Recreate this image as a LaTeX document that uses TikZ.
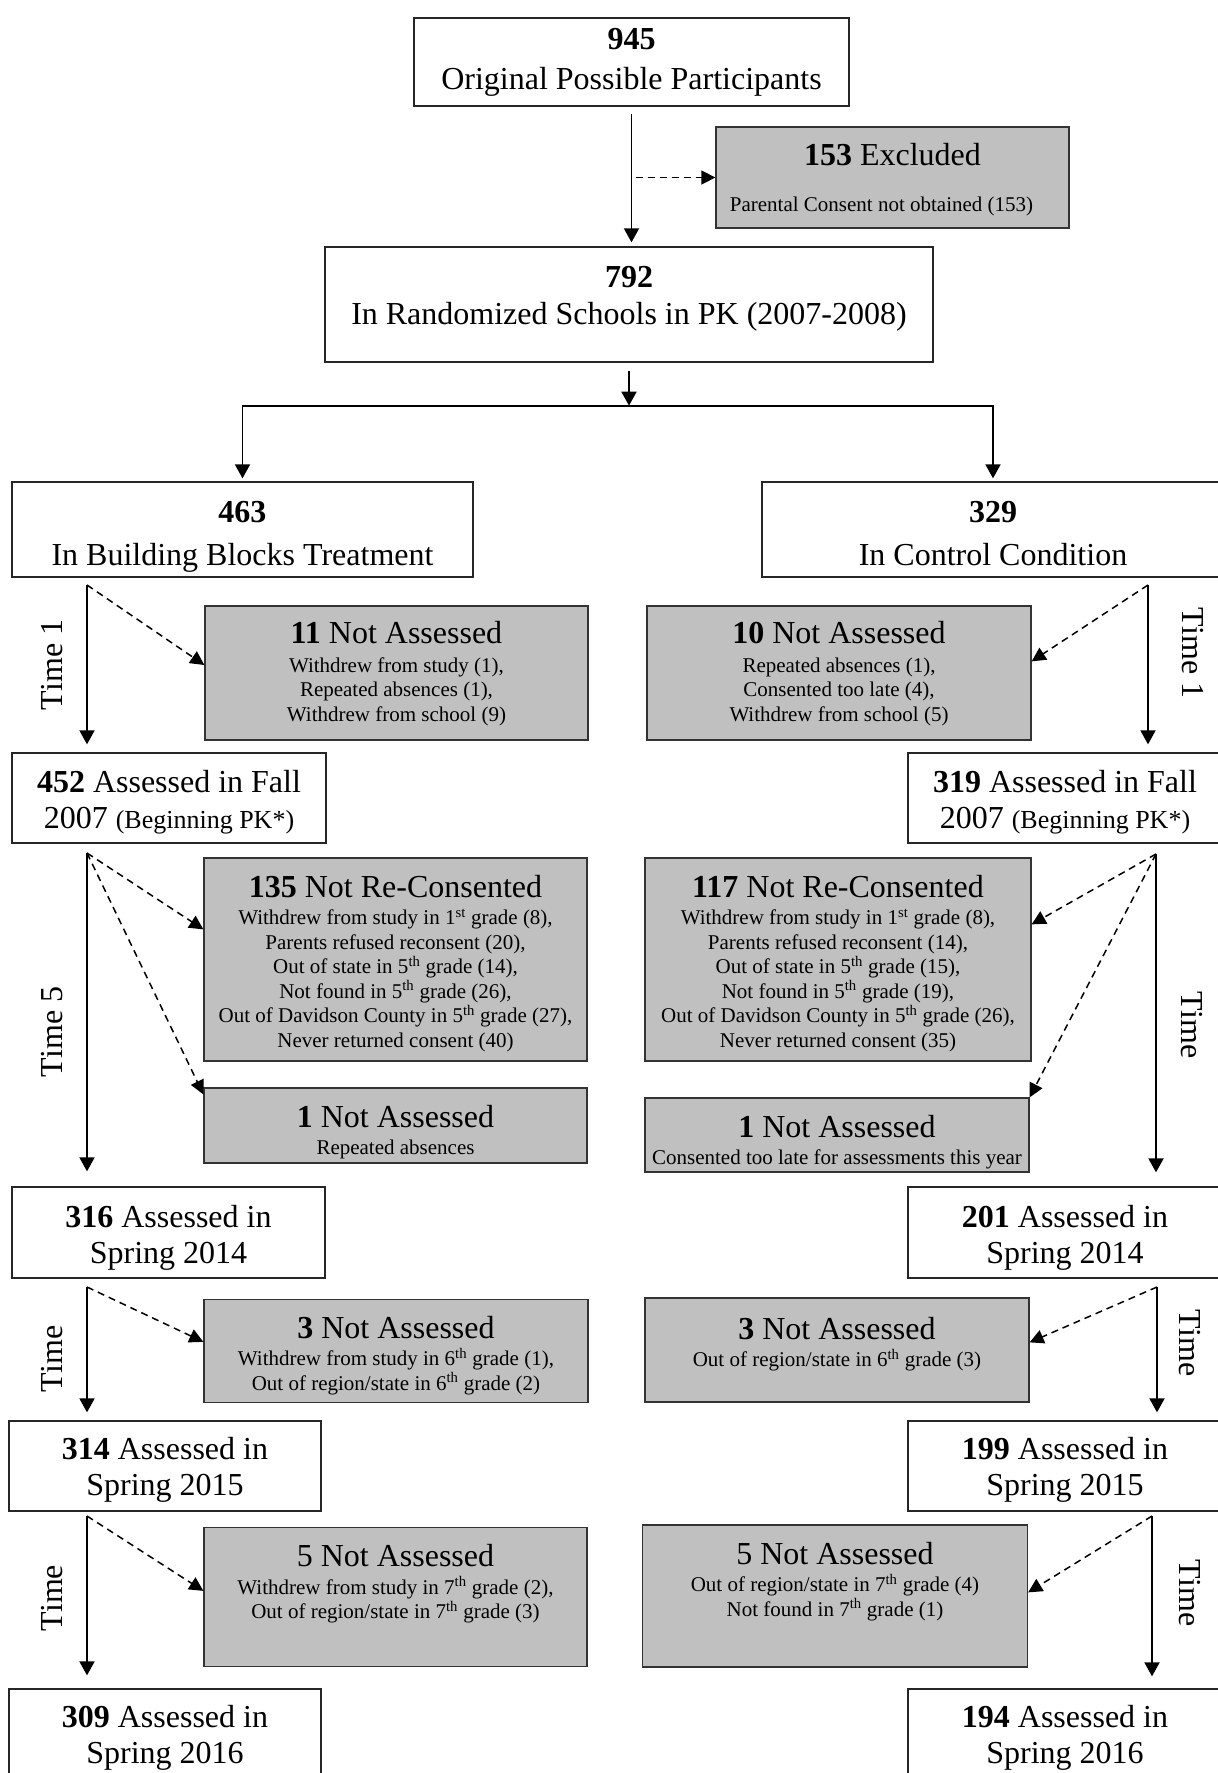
\documentclass[tikz,border=0pt]{standalone}
\usepackage{fontspec}
\setmainfont{Liberation Serif}
\usepackage{xcolor}
\usepackage{tikz}
\usetikzlibrary{arrows.meta,positioning}
\definecolor{boxgrey}{HTML}{C0C0C0}
\newcommand{\headfont}{\fontsize{32}{37}\selectfont}
\newcommand{\notefont}{\fontsize{21}{24.5}\selectfont}
\newcommand{\pkfont}{\fontsize{26}{30}\selectfont}
\newcommand{\padabove}[1]{\rule{0pt}{#1}}
\newcommand{\padbelow}[1]{\rule[-#1]{0pt}{#1}}
\tikzset{
  stage/.style={draw=black!85, line width=1.3pt, fill=white, align=center, inner sep=0pt, font=\headfont},
  dropbox/.style={draw=black!80, line width=1.3pt, fill=boxgrey, inner sep=0pt},
  droptext/.style={align=center, inner sep=0pt, anchor=north, font=\notefont},
  flow/.style={line width=1.8pt, -{Triangle[length=14pt,width=15pt]}},
  lost/.style={line width=1.5pt, dash pattern=on 7pt off 5pt, -{Triangle[length=14pt,width=14pt]}},
  timelabel/.style={inner sep=0pt, font=\headfont}
}

\begin{document}
\begin{tikzpicture}[x=1pt,y=-1pt]
\useasboundingbox (0,0) rectangle (1218,1773);
\clip (0,0) rectangle (1218,1773);

% enrolment
\node[stage, minimum width=435, minimum height=88] (orig) at (631.5,62) {\textbf{945}\\[3pt]Original Possible Participants};
\node[dropbox, minimum width=353, minimum height=101] (excl) at (892.5,177.5) {};
\node[droptext, below=17pt of excl.north] (exclt) {{\headfont\textbf{153} Excluded}\\[21.5pt]Parental Consent not obtained (153)\hspace*{22pt}};
\node[stage, minimum width=608, minimum height=115] (rand) at (629,304.5) {\textbf{792}\\In Randomized Schools in PK (2007-2008)\padbelow{18pt}};

% the two arms
\node[stage, minimum width=461, minimum height=95] (bbt) at (242.5,529.5) {\padabove{36pt}\textbf{463}\\[6pt]In Building Blocks Treatment};
\node[stage, minimum width=462, minimum height=95] (ctl) at (993,529.5) {\padabove{29pt}\textbf{329}\\[6pt]In Control Condition};

% time 1
\node[dropbox, minimum width=383, minimum height=134] (bbna1) at (396.5,673) {};
\node[droptext, below=16pt of bbna1.north] (bbna1t) {{\headfont\textbf{11} Not Assessed}\\[4pt]Withdrew from study (1),\\Repeated absences (1),\\Withdrew from school (9)};
\node[dropbox, minimum width=384, minimum height=134] (ctlna1) at (839,673) {};
\node[droptext, below=16pt of ctlna1.north] (ctlna1t) {{\headfont\textbf{10} Not Assessed}\\[4pt]Repeated absences (1),\\Consented too late (4),\\Withdrew from school (5)};
\node[stage, minimum width=314, minimum height=90] (bbfall) at (169,798) {\padabove{30pt}\textbf{452} Assessed in Fall\\[-1pt]2007 {\pkfont(Beginning PK*)}};
\node[stage, minimum width=314, minimum height=90] (ctlfall) at (1065,798) {\padabove{30pt}\textbf{319} Assessed in Fall\\[-1pt]2007 {\pkfont(Beginning PK*)}};

% time 5
\node[dropbox, minimum width=383, minimum height=203] (bbrc) at (395.5,959.5) {};
\node[droptext, below=18pt of bbrc.north] (bbrct) {{\headfont\textbf{135} Not Re-Consented}\\[2.5pt]Withdrew from study in 1\textsuperscript{st} grade (8),\\Parents refused reconsent (20),\\Out of state in 5\textsuperscript{th} grade (14),\\Not found in 5\textsuperscript{th} grade (26),\\Out of Davidson County in 5\textsuperscript{th} grade (27),\\Never returned consent (40)};
\node[dropbox, minimum width=386, minimum height=203] (ctlrc) at (838,959.5) {};
\node[droptext, below=18pt of ctlrc.north] (ctlrct) {{\headfont\textbf{117} Not Re-Consented}\\[2.5pt]Withdrew from study in 1\textsuperscript{st} grade (8),\\Parents refused reconsent (14),\\Out of state in 5\textsuperscript{th} grade (15),\\Not found in 5\textsuperscript{th} grade (19),\\Out of Davidson County in 5\textsuperscript{th} grade (26),\\Never returned consent (35)};
\node[dropbox, minimum width=383, minimum height=75] (bbna2) at (395.5,1125.5) {};
\node[droptext, below=18pt of bbna2.north] (bbna2t) {{\headfont\textbf{1} Not Assessed}\\[2pt]Repeated absences};
\node[dropbox, minimum width=384, minimum height=74] (ctlna2) at (837,1135) {};
\node[droptext, below=17.5pt of ctlna2.north] (ctlna2t) {{\headfont\textbf{1} Not Assessed}\\[3pt]Consented too late for assessments this year};
\node[stage, minimum width=313, minimum height=91] (bb14) at (168.5,1232.5) {\padabove{32pt}\textbf{316} Assessed in\\[-1pt]Spring 2014};
\node[stage, minimum width=314, minimum height=91] (ctl14) at (1065,1232.5) {\padabove{32pt}\textbf{201} Assessed in\\[-1pt]Spring 2014};

% spring 2015
\node[dropbox, minimum width=384, minimum height=103] (bbna3) at (396,1351) {};
\node[droptext, below=17pt of bbna3.north] (bbna3t) {{\headfont\textbf{3} Not Assessed}\\[3pt]Withdrew from study in 6\textsuperscript{th} grade (1),\\Out of region/state in 6\textsuperscript{th} grade (2)};
\node[dropbox, minimum width=384, minimum height=104] (ctlna3) at (837,1350) {};
\node[droptext, below=20pt of ctlna3.north] (ctlna3t) {{\headfont\textbf{3} Not Assessed}\\[2.5pt]Out of region/state in 6\textsuperscript{th} grade (3)};
\node[stage, minimum width=312, minimum height=90] (bb15) at (165,1466) {\padabove{30pt}\textbf{314} Assessed in\\[-1pt]Spring 2015};
\node[stage, minimum width=314, minimum height=90] (ctl15) at (1065,1466) {\padabove{30pt}\textbf{199} Assessed in\\[-1pt]Spring 2015};

% spring 2016
\node[dropbox, minimum width=383, minimum height=139] (bbna4) at (395.5,1597) {};
\node[droptext, below=17.5pt of bbna4.north] (bbna4t) {{\headfont 5 Not Assessed}\\[3pt]Withdrew from study in 7\textsuperscript{th} grade (2),\\Out of region/state in 7\textsuperscript{th} grade (3)};
\node[dropbox, minimum width=385, minimum height=142] (ctlna4) at (835,1596) {};
\node[droptext, below=18pt of ctlna4.north] (ctlna4t) {{\headfont 5 Not Assessed}\\[2.5pt]Out of region/state in 7\textsuperscript{th} grade (4)\\Not found in 7\textsuperscript{th} grade (1)};
\node[stage, minimum width=312, minimum height=90] (bb16) at (165,1734) {\padabove{30pt}\textbf{309} Assessed in\\[-1pt]Spring 2016};
\node[stage, minimum width=314, minimum height=90] (ctl16) at (1065,1734) {\padabove{30pt}\textbf{194} Assessed in\\[-1pt]Spring 2016};

% time labels
\node[timelabel, rotate=90] (bbtl1) at (52,665) {Time 1};
\node[timelabel, rotate=90] (bbtl2) at (52,1032) {Time 5};
\node[timelabel, rotate=90] (bbtl3) at (52,1359) {Time};
\node[timelabel, rotate=90] (bbtl4) at (52,1598) {Time};
\node[timelabel, rotate=-90] (ctltl1) at (1193,653) {Time 1};
\node[timelabel, rotate=-90] (ctltl2) at (1192,1025) {Time};
\node[timelabel, rotate=-90] (ctltl3) at (1190,1343) {Time};
\node[timelabel, rotate=-90] (ctltl4) at (1190,1593) {Time};

% connectors at the top
\draw[flow, shorten <=7pt, shorten >=4pt] (orig.south) -- (orig.south |- rand.north);
\coordinate (exclfork) at (orig.south |- excl.west);
\draw[lost, shorten <=4pt] (exclfork) -- (excl.west);
\coordinate (fork) at ([yshift=-43pt]rand.south);
\draw[flow, shorten <=8pt] (rand.south) -- (fork);
\draw[line width=1.8pt, {Triangle[length=14pt,width=15pt]}-{Triangle[length=14pt,width=15pt]}, shorten <=3pt, shorten >=3pt]
  (bbt.north) -- (bbt.north |- fork) -- (ctl.north |- fork) -- (ctl.north);

% building blocks arm
\coordinate (bbtime1) at (87,585);
\coordinate (bbtime2) at (87,853);
\coordinate (bbtime3) at (87,1287);
\coordinate (bbtime4) at (87,1516);
\draw[flow, shorten >=8pt] (bbtime1) -- (bbtime1 |- bbfall.north);
\draw[lost] (bbtime1) -- ([yshift=8pt]bbna1.west);
\draw[flow, shorten >=15pt] (bbtime2) -- (bbtime2 |- bb14.north);
\draw[lost] (bbtime2) -- ([yshift=-72pt]bbrc.north west);
\draw[lost] (bbtime2) -- ([yshift=-7pt]bbna2.north west);
\draw[flow, shorten >=8pt] (bbtime3) -- (bbtime3 |- bb15.north);
\draw[lost] (bbtime3) -- ([yshift=-43pt]bbna3.north west);
\draw[flow, shorten >=13pt] (bbtime4) -- (bbtime4 |- bb16.north);
\draw[lost] (bbtime4) -- ([yshift=-64pt]bbna4.north west);

% control arm
\coordinate (ctltime1) at (1148,585);
\coordinate (ctltime2) at (1156,854);
\coordinate (ctltime3) at (1157,1287);
\coordinate (ctltime4) at (1152,1516);
\draw[flow, shorten >=8pt] (ctltime1) -- (ctltime1 |- ctlfall.north);
\draw[lost] (ctltime1) -- ([yshift=-56pt]ctlna1.north east);
\draw[flow, shorten >=14pt] (ctltime2) -- (ctltime2 |- ctl14.north);
\draw[lost] (ctltime2) -- ([yshift=-67pt]ctlrc.north east);
\draw[lost] (ctltime2) -- (ctlna2.north east);
\draw[flow, shorten >=8pt] (ctltime3) -- (ctltime3 |- ctl15.north);
\draw[lost] (ctltime3) -- ([yshift=-45pt]ctlna3.north east);
\draw[flow, shorten >=12pt] (ctltime4) -- (ctltime4 |- ctl16.north);
\draw[lost] (ctltime4) -- ([yshift=-68pt]ctlna4.north east);
\end{tikzpicture}
\end{document}
